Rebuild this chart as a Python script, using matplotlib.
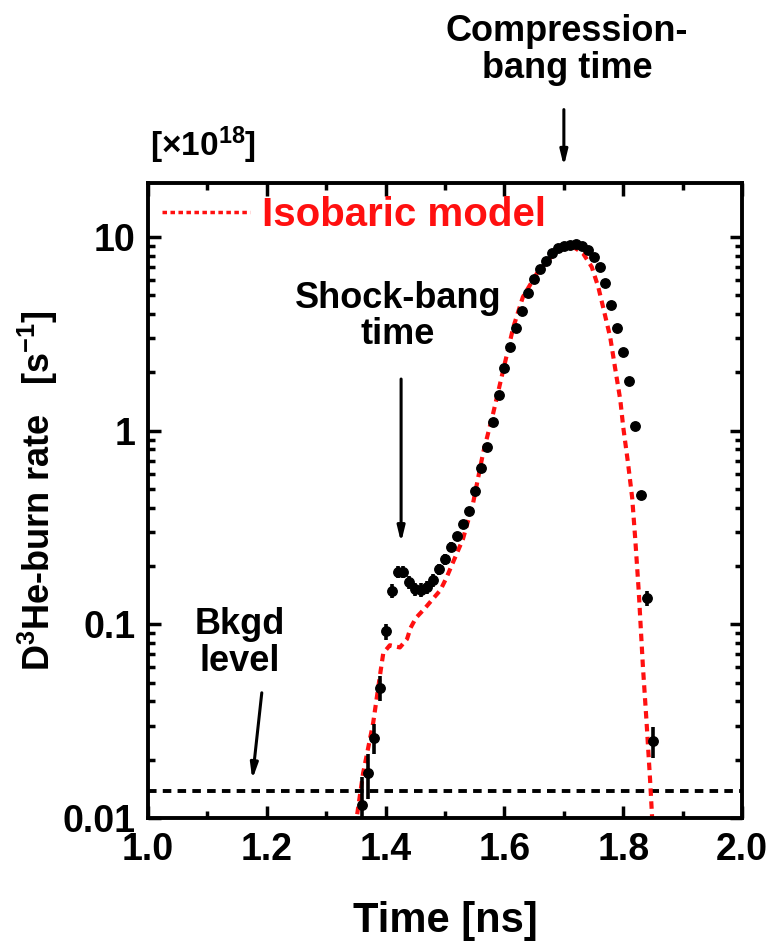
import numpy as np
import matplotlib
matplotlib.use('Agg')
import matplotlib.pyplot as plt
from matplotlib.lines import Line2D
from matplotlib.ticker import MultipleLocator, LogLocator, NullFormatter, FixedFormatter, FixedLocator

plt.rcParams['font.family'] = ['Liberation Sans', 'DejaVu Sans']
plt.rcParams['font.weight'] = 'bold'
plt.rcParams['mathtext.fontset'] = 'custom'
plt.rcParams['mathtext.rm'] = 'Liberation Sans:bold'
plt.rcParams['mathtext.it'] = 'Liberation Sans:bold'
plt.rcParams['mathtext.bf'] = 'Liberation Sans:bold'
plt.rcParams['mathtext.default'] = 'rm'

# measured D3He burn rate [x1e18 /s]
t_data = [1.36, 1.37, 1.38, 1.39, 1.40, 1.41, 1.42, 1.43, 1.44, 1.45,
          1.46, 1.47, 1.48, 1.49, 1.50, 1.51, 1.52, 1.53, 1.54, 1.55,
          1.56, 1.57, 1.58, 1.59, 1.60, 1.61, 1.62, 1.63, 1.64, 1.65,
          1.66, 1.67, 1.68, 1.69, 1.70, 1.71, 1.72, 1.73, 1.74, 1.75,
          1.76, 1.77, 1.78, 1.79, 1.80, 1.81, 1.82, 1.83, 1.84, 1.85]
rate = [0.0117, 0.017, 0.026, 0.047, 0.092, 0.149, 0.186, 0.186, 0.165, 0.152,
        0.151, 0.156, 0.169, 0.193, 0.217, 0.251, 0.286, 0.33, 0.385, 0.49,
        0.64, 0.82, 1.11, 1.53, 2.10, 2.70, 3.39, 4.14, 5.13, 6.06,
        6.83, 7.51, 8.26, 8.77, 8.98, 9.09, 9.19, 8.98, 8.56, 7.87,
        7.0, 5.78, 4.45, 3.39, 2.55, 1.80, 1.06, 0.466, 0.137, 0.025]
err = [0.0045, 0.0045, 0.0045, 0.007, 0.009, 0.012, 0.013, 0.013, 0.012, 0.012,
       0.012, 0.012, 0.013, 0.013, 0.014, 0.014, 0.015, 0.015, 0.016, 0.017,
       0.02, 0.02, 0.022, 0.025, 0.03, 0.03, 0.035, 0.04, 0.04, 0.045,
       0.045, 0.05, 0.05, 0.05, 0.05, 0.05, 0.05, 0.05, 0.05, 0.05,
       0.045, 0.04, 0.04, 0.035, 0.03, 0.025, 0.02, 0.017, 0.012, 0.0045]

# isobaric model curve
t_model = [1.348, 1.352, 1.362, 1.379, 1.391, 1.396, 1.407, 1.424, 1.436, 1.442,
           1.451, 1.465, 1.481, 1.492, 1.502, 1.517, 1.530, 1.547, 1.564, 1.581,
           1.598, 1.615, 1.631, 1.655, 1.677, 1.699, 1.716, 1.732, 1.747, 1.758,
           1.766, 1.778, 1.786, 1.795, 1.800, 1.808, 1.815, 1.820, 1.826, 1.833,
           1.839, 1.845, 1.849]
r_model = [0.009, 0.0104, 0.017, 0.031, 0.056, 0.071, 0.078, 0.076, 0.084, 0.096,
           0.108, 0.12, 0.137, 0.150, 0.173, 0.222, 0.275, 0.42, 0.766, 1.23,
           2.06, 3.43, 4.90, 6.52, 7.79, 8.77, 8.88, 8.26, 7.0, 5.51,
           4.35, 3.04, 2.13, 1.44, 1.04, 0.68, 0.45, 0.28, 0.149, 0.061,
           0.032, 0.016, 0.0095]

bkgd_level = 0.0138

fig = plt.figure(figsize=(7.73, 9.42), dpi=100)
ax = fig.add_axes([0.1915, 0.1316, 0.7685, 0.6741])

ax.axhline(bkgd_level, color='black', lw=2.8, ls=(0, (2.2, 1.6)))
ax.plot(t_model, r_model, color='#ff1010', lw=3, ls=(0, (1.8, 1.3)))
ax.errorbar(t_data, rate, yerr=err, fmt='o', color='black', ms=6.8,
            elinewidth=2.6, capsize=0)

ax.set_yscale('log')
ax.set_xlim(1.0, 2.0)
ax.set_ylim(0.01, 19)

ax.xaxis.set_major_locator(MultipleLocator(0.2))
ax.xaxis.set_minor_locator(MultipleLocator(0.1))
ax.yaxis.set_major_locator(FixedLocator([0.01, 0.1, 1, 10]))
ax.yaxis.set_major_formatter(FixedFormatter(['0.01', '0.1', '1', '10']))
ax.yaxis.set_minor_locator(LogLocator(base=10, subs=np.arange(2, 10)))
ax.yaxis.set_minor_formatter(NullFormatter())

ax.tick_params(which='both', direction='in', top=True, right=True, width=2.5,
               labelsize=27)
ax.tick_params(axis='x', which='major', length=9, pad=10)
ax.tick_params(axis='x', which='minor', length=5)
ax.tick_params(axis='y', which='major', length=9, pad=9)
ax.tick_params(axis='y', which='minor', length=5)
for lab in ax.get_xticklabels() + ax.get_yticklabels():
    lab.set_fontweight('bold')
for sp in ax.spines.values():
    sp.set_linewidth(2.8)

ax.set_xlabel('Time [ns]', fontsize=30, fontweight='bold', labelpad=24)
ax.set_ylabel('D$^3$He-burn rate   [s$^{-1}$]', fontsize=26, fontweight='bold')
ax.yaxis.set_label_coords(-0.148, 0.515)

handle = Line2D([], [], color='#ff1010', lw=2.5, ls=(0, (1.3, 1.0)))
leg = ax.legend([handle], ['Isobaric model'], loc='upper left', frameon=False,
                handlelength=2.2, handletextpad=0.3,
                borderaxespad=0.0, bbox_to_anchor=(-0.004, 1.005),
                labelcolor='#ff1010', prop={'weight': 'bold', 'size': 29})

ax.text(0.003, 1.06, '[×10$^{18}$]', transform=ax.transAxes, fontsize=24,
        fontweight='bold', ha='left', va='center')

# compression-bang annotation
fig.text(567 / 773, 1 - 50 / 942, 'Compression-\nbang time', fontsize=26,
         fontweight='bold', ha='center', va='center', linespacing=1.05)
ax.annotate('', xy=(1.70, 1.022), xycoords=('data', 'axes fraction'),
            xytext=(1.70, 1.12), textcoords=('data', 'axes fraction'),
            arrowprops=dict(arrowstyle='-|>,head_length=0.9,head_width=0.22',
                            color='black', lw=2.2), annotation_clip=False)

# shock-bang annotation
ax.text(1.421, 3.9, 'Shock-bang\ntime', fontsize=26, fontweight='bold',
        ha='center', va='center', linespacing=1.05)
ax.annotate('', xy=(1.426, 0.256), xytext=(1.426, 1.91),
            arrowprops=dict(arrowstyle='-|>,head_length=0.9,head_width=0.22',
                            color='black', lw=2.2))

# background level annotation
ax.text(1.155, 0.080, 'Bkgd\nlevel', fontsize=26, fontweight='bold',
        ha='center', va='center', linespacing=1.05)
ax.annotate('', xy=(1.175, 0.0153), xytext=(1.192, 0.0458),
            arrowprops=dict(arrowstyle='-|>,head_length=0.9,head_width=0.22',
                            color='black', lw=2.2))

fig.savefig('out.png', dpi=100)
